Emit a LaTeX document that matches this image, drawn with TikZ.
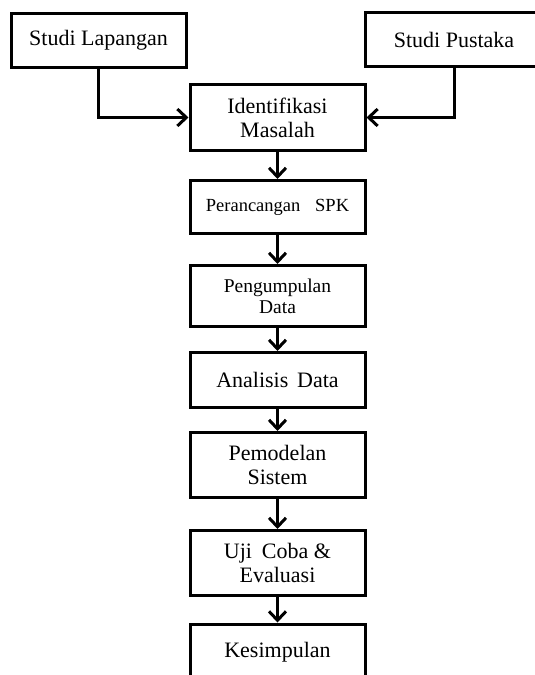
\documentclass[tikz,border=0pt]{standalone}
\usepackage{fontspec}
\setmainfont{Liberation Serif}
\usetikzlibrary{arrows.meta}
\begin{document}
\begin{tikzpicture}[x=1pt,y=1pt,
  box/.style={draw=black, line width=3pt, minimum width=175pt, align=center, inner sep=0pt,
    font=\fontsize{22pt}{24pt}\selectfont},
  conn/.style={line width=3pt, -{Straight Barb[length=9pt,width=17pt,line width=3pt]}}]
\useasboundingbox (0,0) rectangle (535,-675);
\fill[white] (0,0) rectangle (535,-675);
\node[box, minimum height=54pt] (lap) at (98.5,-40.5) {Studi Lapangan};
\node[box, minimum width=178pt, minimum height=54pt] (pus) at (454,-39.5) {Studi Pustaka};
\node[box, minimum height=66pt] (ide) at (277.5,-117.5) {Identifikasi\\Masalah};
\node[box, minimum height=53pt, font=\fontsize{18.5pt}{21pt}\selectfont] (per) at (277.5,-207) {Perancangan\hspace{0.8em}SPK};
\node[box, minimum height=61pt, font=\fontsize{19.5pt}{21pt}\selectfont] (pen) at (277.5,-296) {Pengumpulan\\Data};
\node[box, minimum height=55pt] (ana) at (277.5,-380) {Analisis\hspace{0.15em} Data};
\node[box, minimum height=65pt] (pem) at (277.5,-465) {Pemodelan\\Sistem};
\node[box, minimum height=65pt] (uji) at (277.5,-563) {Uji\hspace{0.2em} Coba \&\\Evaluasi};
\node[box, minimum height=56pt] (kes) at (277.5,-652) {Kesimpulan};
\draw[conn] (lap.south) |- (ide.west);
\draw[conn] (pus.south) |- (ide.east);
\draw[conn] (ide) -- (per);
\draw[conn] (per) -- (pen);
\draw[conn] (pen) -- (ana);
\draw[conn] (ana) -- (pem);
\draw[conn] (pem) -- (uji);
\draw[conn] (uji) -- (kes);
\end{tikzpicture}
\end{document}
